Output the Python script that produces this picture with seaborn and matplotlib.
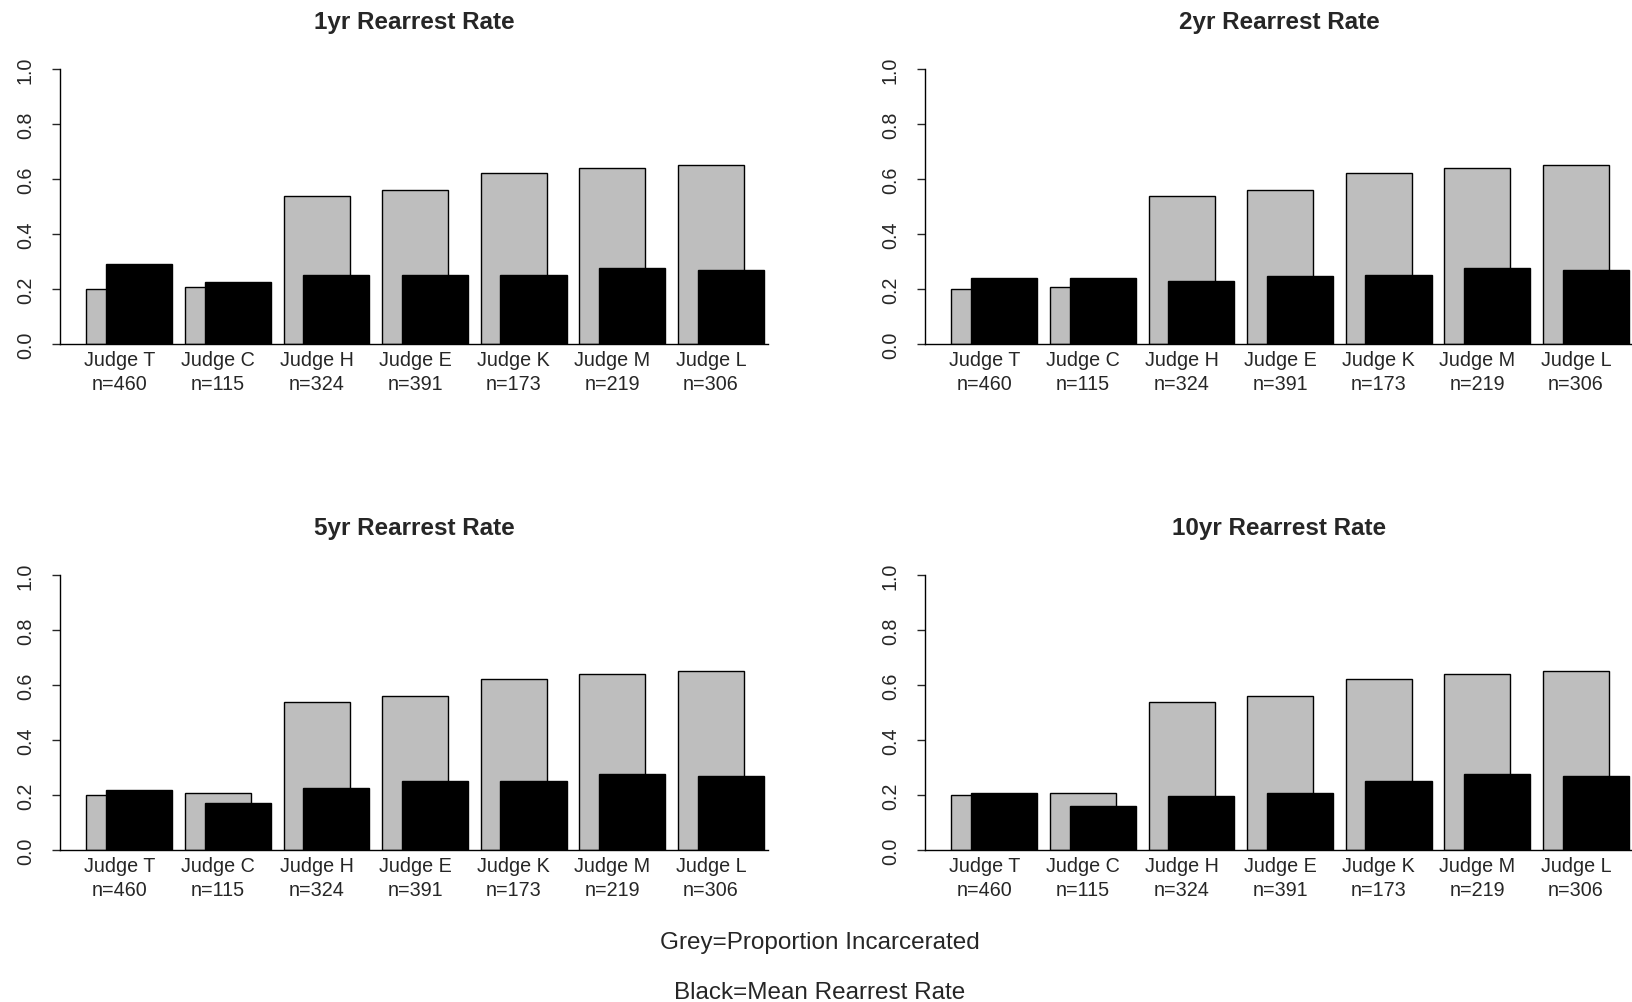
import numpy as np
import matplotlib
matplotlib.use('Agg')
import matplotlib.pyplot as plt
import seaborn as sns

judges = ['Judge T', 'Judge C', 'Judge H', 'Judge E', 'Judge K', 'Judge M', 'Judge L']
counts = [460, 115, 324, 391, 173, 219, 306]

# grey = proportion incarcerated (same in every panel)
prop_incarcerated = [0.200, 0.206, 0.538, 0.560, 0.623, 0.640, 0.651]

# black = mean rearrest rate
rearrest_1yr = [0.292, 0.224, 0.252, 0.252, 0.252, 0.276, 0.270]
rearrest_2yr = [0.241, 0.241, 0.230, 0.247, 0.252, 0.276, 0.270]
rearrest_5yr = [0.218, 0.172, 0.224, 0.252, 0.252, 0.275, 0.269]
rearrest_10yr = [0.206, 0.161, 0.195, 0.206, 0.252, 0.275, 0.269]

titles = ['1yr Rearrest Rate', '2yr Rearrest Rate', '5yr Rearrest Rate', '10yr Rearrest Rate']
rates = [rearrest_1yr, rearrest_2yr, rearrest_5yr, rearrest_10yr]

sns.set_style('white')
plt.rcParams['font.family'] = ['Liberation Sans', 'DejaVu Sans']

W, H = 1633, 1003
fig = plt.figure(figsize=(W / 100, H / 100), dpi=100)

# axes boxes in pixels: (left, top-of-y=1, bottom-of-y=0)
ax_w = 708
boxes = [(60, 70, 345), (925, 70, 345), (60, 576, 851), (925, 576, 851)]

pos = np.arange(len(judges))
bar_w = 0.67
shift = 0.2
labels = [f'{j}\nn={n}' for j, n in zip(judges, counts)]

for (left, top, bottom), title, rate in zip(boxes, titles, rates):
    ax = fig.add_axes([left / W, 1 - bottom / H, ax_w / W, (bottom - top) / H])
    sns.barplot(x=pos, y=prop_incarcerated, native_scale=True, width=bar_w,
                color='#BEBEBE', saturation=1, edgecolor='black', linewidth=1,
                errorbar=None, ax=ax)
    sns.barplot(x=pos + shift, y=rate, native_scale=True, width=bar_w,
                color='black', saturation=1, edgecolor='black', linewidth=1,
                errorbar=None, ax=ax)
    ax.set_xlim(-0.603, 6.579)
    ax.set_ylim(0, 1)
    ax.set_xticks(pos)
    ax.set_xticklabels(labels, fontsize=14.2, linespacing=1.38)
    ax.set_yticks(np.arange(0, 1.01, 0.2))
    ax.set_yticklabels([f'{v:.1f}' for v in np.arange(0, 1.01, 0.2)], fontsize=14.2)
    ax.tick_params(axis='x', length=0, pad=4)
    ax.tick_params(axis='y', length=6, width=1, pad=12, labelrotation=90, left=True)
    for lab in ax.get_yticklabels():
        lab.set_va('center')
    ax.spines['top'].set_visible(False)
    ax.spines['right'].set_visible(False)
    ax.spines['left'].set_bounds(0, 1)
    ax.spines['left'].set_linewidth(1)
    ax.spines['bottom'].set_linewidth(1)
    ax.spines['left'].set_color('black')
    ax.spines['bottom'].set_color('black')
    ax.set_xlabel('')
    ax.set_ylabel('')
    ax.grid(False)
    ax.text(0.5, 1 + 47 / (bottom - top), title, transform=ax.transAxes,
            ha='center', va='center', fontsize=17.5, fontweight='bold')

fig.text(820 / W, 1 - 943 / H, 'Grey=Proportion Incarcerated',
         ha='center', va='center', fontsize=17.5)
fig.text(820 / W, 1 - 993 / H, 'Black=Mean Rearrest Rate',
         ha='center', va='center', fontsize=17.5)

fig.savefig('out.png', dpi=100, facecolor='white')
